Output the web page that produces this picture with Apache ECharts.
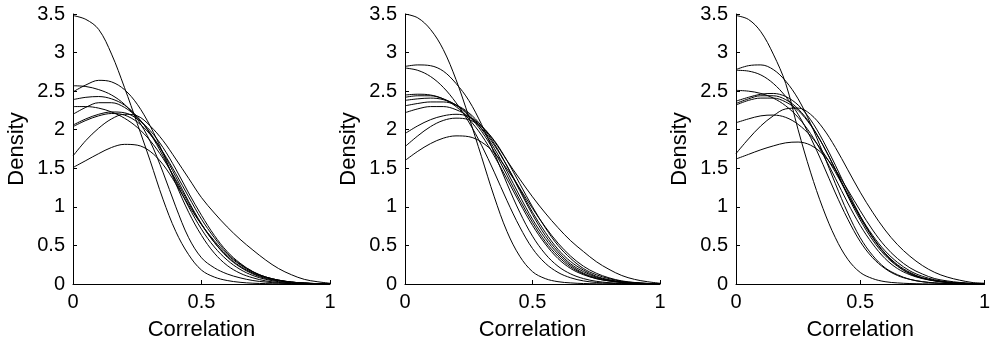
<!DOCTYPE html>
<html>
<head>
<meta charset="utf-8">
<script src="https://cdn.jsdelivr.net/npm/echarts@6/dist/echarts.min.js"></script>
<style>
html,body{margin:0;padding:0;background:#fff;}
#chart{width:993px;height:351px;}
</style>
</head>
<body>
<div id="chart"></div>
<script>
// x positions (Correlation) shared by every curve
const xs = [0,0.05,0.1,0.15,0.2,0.25,0.3,0.35,0.4,0.45,0.5,0.55,0.6,0.65,0.7,0.75,0.8,0.85,0.9,0.95,1];
const xTicks = ['0','0.5','1'];
const yTicks = ['0','0.5','1','1.5','2','2.5','3','3.5'];
const xName = 'Correlation';
const yName = 'Density';

// Panel 1 density curves
const p1a = [3.48,3.43,3.3,2.98,2.55,2.08,1.6,1.1,0.68,0.38,0.18,0.09,0.045,0.022,0.01,0.005,0.002,0.001,0,0,0];
const p1b = [1.51,1.6,1.69,1.77,1.81,1.8,1.72,1.55,1.3,1.02,0.77,0.56,0.38,0.25,0.15,0.09,0.05,0.025,0.012,0.005,0.002];
const p1c = [1.66,1.86,2.02,2.14,2.2,2.18,2.05,1.86,1.62,1.37,1.12,0.92,0.74,0.58,0.44,0.31,0.2,0.12,0.06,0.03,0.01];
const p1d = [2.57,2.56,2.52,2.45,2.33,2.14,1.85,1.45,1.0,0.6,0.34,0.21,0.13,0.08,0.045,0.025,0.012,0.005,0.002,0.001,0];
const p1e = [2.49,2.58,2.64,2.62,2.52,2.33,2.05,1.7,1.3,0.93,0.63,0.4,0.24,0.14,0.08,0.04,0.02,0.01,0.005,0.002,0.001];
const p1f = [2.39,2.42,2.43,2.4,2.32,2.17,1.95,1.66,1.33,1.0,0.71,0.48,0.31,0.19,0.11,0.06,0.03,0.015,0.007,0.003,0.001];
const p1g = [2.3,2.3,2.28,2.23,2.15,2.03,1.86,1.63,1.35,1.05,0.77,0.54,0.36,0.23,0.14,0.08,0.045,0.024,0.012,0.005,0.002];
const p1h = [2.2,2.29,2.35,2.35,2.29,2.16,1.96,1.7,1.39,1.07,0.78,0.54,0.35,0.22,0.13,0.07,0.04,0.02,0.01,0.004,0.002];
const p1i = [2.06,2.14,2.2,2.23,2.22,2.14,1.99,1.77,1.49,1.18,0.89,0.63,0.42,0.27,0.16,0.09,0.05,0.025,0.012,0.005,0.002];
const p1j = [2.04,2.12,2.18,2.21,2.19,2.1,1.94,1.71,1.43,1.13,0.84,0.6,0.4,0.26,0.16,0.09,0.05,0.025,0.012,0.005,0.002];

// Panel 2 density curves
const p2a = [3.5,3.45,3.3,3.04,2.65,2.17,1.65,1.13,0.68,0.36,0.16,0.07,0.03,0.014,0.006,0.003,0.001,0,0,0,0];
const p2k = [2.82,2.84,2.83,2.76,2.6,2.38,2.07,1.7,1.3,0.93,0.62,0.39,0.23,0.13,0.07,0.035,0.017,0.008,0.003,0.001,0];
const p2l = [2.8,2.77,2.69,2.55,2.35,2.1,1.8,1.45,1.08,0.74,0.46,0.27,0.15,0.08,0.04,0.02,0.01,0.004,0.002,0.001,0];
const p2m = [2.45,2.46,2.45,2.4,2.3,2.14,1.93,1.66,1.36,1.05,0.76,0.52,0.33,0.2,0.12,0.07,0.04,0.02,0.01,0.004,0.001];
const p2n = [2.42,2.44,2.44,2.4,2.32,2.18,1.98,1.72,1.41,1.09,0.8,0.55,0.36,0.22,0.13,0.07,0.04,0.02,0.01,0.004,0.001];
const p2o = [2.38,2.4,2.41,2.39,2.32,2.2,2.01,1.76,1.46,1.14,0.84,0.59,0.39,0.24,0.14,0.08,0.045,0.024,0.012,0.005,0.002];
const p2p = [2.31,2.34,2.36,2.36,2.32,2.22,2.05,1.82,1.53,1.21,0.9,0.63,0.42,0.26,0.16,0.09,0.05,0.025,0.012,0.005,0.002];
const p2q = [2.22,2.27,2.3,2.3,2.26,2.17,2.02,1.8,1.53,1.23,0.93,0.67,0.45,0.29,0.18,0.1,0.055,0.028,0.014,0.006,0.002];
const p2c = [1.95,2.05,2.13,2.18,2.2,2.17,2.05,1.85,1.6,1.36,1.13,0.92,0.73,0.56,0.42,0.29,0.19,0.11,0.06,0.03,0.01];
const p2r = [1.78,1.92,2.04,2.12,2.15,2.13,2.04,1.86,1.6,1.3,1.0,0.73,0.5,0.33,0.2,0.12,0.07,0.035,0.017,0.007,0.003];
const p2s = [1.6,1.72,1.82,1.89,1.92,1.91,1.84,1.7,1.49,1.24,0.98,0.74,0.53,0.36,0.23,0.14,0.08,0.04,0.02,0.008,0.003];

// Panel 3 density curves
const p3a = [3.48,3.43,3.27,2.98,2.6,2.0,1.45,0.98,0.6,0.32,0.15,0.07,0.03,0.014,0.006,0.002,0.001,0,0,0,0];
const p3k = [2.78,2.83,2.84,2.78,2.63,2.4,2.08,1.7,1.3,0.92,0.6,0.37,0.21,0.12,0.06,0.03,0.014,0.006,0.003,0.001,0];
const p3l = [2.77,2.76,2.71,2.6,2.43,2.2,1.9,1.55,1.18,0.84,0.55,0.34,0.2,0.11,0.06,0.03,0.014,0.006,0.003,0.001,0];
const p3m = [2.51,2.5,2.47,2.41,2.31,2.16,1.95,1.68,1.37,1.05,0.76,0.52,0.33,0.2,0.12,0.07,0.04,0.02,0.01,0.004,0.001];
const p3n = [2.37,2.42,2.46,2.47,2.43,2.32,2.13,1.86,1.54,1.2,0.88,0.61,0.4,0.25,0.15,0.08,0.045,0.024,0.012,0.005,0.002];
const p3o = [2.34,2.4,2.44,2.44,2.39,2.27,2.07,1.8,1.48,1.14,0.83,0.57,0.37,0.23,0.13,0.075,0.04,0.02,0.01,0.004,0.001];
const p3p = [2.32,2.38,2.41,2.41,2.36,2.25,2.06,1.8,1.49,1.16,0.86,0.6,0.39,0.24,0.14,0.08,0.045,0.023,0.011,0.005,0.002];
const p3q = [2.09,2.14,2.18,2.19,2.16,2.07,1.92,1.71,1.45,1.16,0.88,0.63,0.43,0.28,0.17,0.1,0.055,0.028,0.014,0.006,0.002];
const p3w = [1.69,1.88,2.05,2.18,2.27,2.28,2.2,2.02,1.77,1.48,1.19,0.93,0.7,0.51,0.36,0.24,0.15,0.09,0.05,0.02,0.01];
const p3f = [1.62,1.68,1.74,1.79,1.83,1.84,1.8,1.68,1.48,1.22,0.95,0.7,0.49,0.33,0.21,0.13,0.07,0.04,0.02,0.008,0.003];

const panels = [
  [p1a,p1b,p1c,p1d,p1e,p1f,p1g,p1h,p1i,p1j],
  [p2a,p2k,p2l,p2m,p2n,p2o,p2p,p2q,p2c,p2r,p2s],
  [p3a,p3k,p3l,p3m,p3n,p3o,p3p,p3q,p3w,p3f]
];

const FONT = '"Liberation Sans", Arial, Helvetica, sans-serif';
const gridBoxes = [
  {left: 73, top: 14, width: 257, height: 270},
  {left: 405, top: 14, width: 255, height: 270},
  {left: 736, top: 14, width: 256, height: 270}
];

const grid = [], xAxis = [], yAxis = [], series = [];
gridBoxes.forEach((g, i) => {
  grid.push(Object.assign({}, g));
  xAxis.push({
    type: 'value', gridIndex: i, min: 0, max: 1, interval: 0.5,
    name: xName, nameLocation: 'middle', nameGap: 35,
    nameTextStyle: {fontFamily: FONT, fontSize: 22, color: '#000'},
    axisLine: {show: true, onZero: false, lineStyle: {color: '#000', width: 1}},
    axisTick: {show: true, inside: true, length: 4, lineStyle: {color: '#000'}},
    axisLabel: {fontFamily: FONT, fontSize: 20, color: '#000', margin: 8,
      formatter: v => xTicks[Math.round(v / 0.5)]},
    splitLine: {show: false}
  });
  yAxis.push({
    type: 'value', gridIndex: i, min: 0, max: 3.5, interval: 0.5,
    name: yName, nameLocation: 'middle', nameGap: 45, nameRotate: 90,
    nameTextStyle: {fontFamily: FONT, fontSize: 22, color: '#000'},
    axisLine: {show: true, lineStyle: {color: '#000', width: 1}},
    axisTick: {show: true, inside: true, length: 4, lineStyle: {color: '#000'}},
    axisLabel: {fontFamily: FONT, fontSize: 20, color: '#000', margin: 8,
      formatter: v => yTicks[Math.round(v / 0.5)]},
    splitLine: {show: false}
  });
  panels[i].forEach(curve => {
    series.push({
      type: 'line', xAxisIndex: i, yAxisIndex: i,
      data: xs.map((x, k) => [x, curve[k]]),
      smooth: 0.35, showSymbol: false, symbol: 'none',
      lineStyle: {color: '#000', width: 1},
      silent: true, animation: false
    });
  });
});

const chart = echarts.init(document.getElementById('chart'), null, {renderer: 'canvas'});
chart.setOption({animation: false, backgroundColor: '#fff', grid, xAxis, yAxis, series});
</script>
</body>
</html>
